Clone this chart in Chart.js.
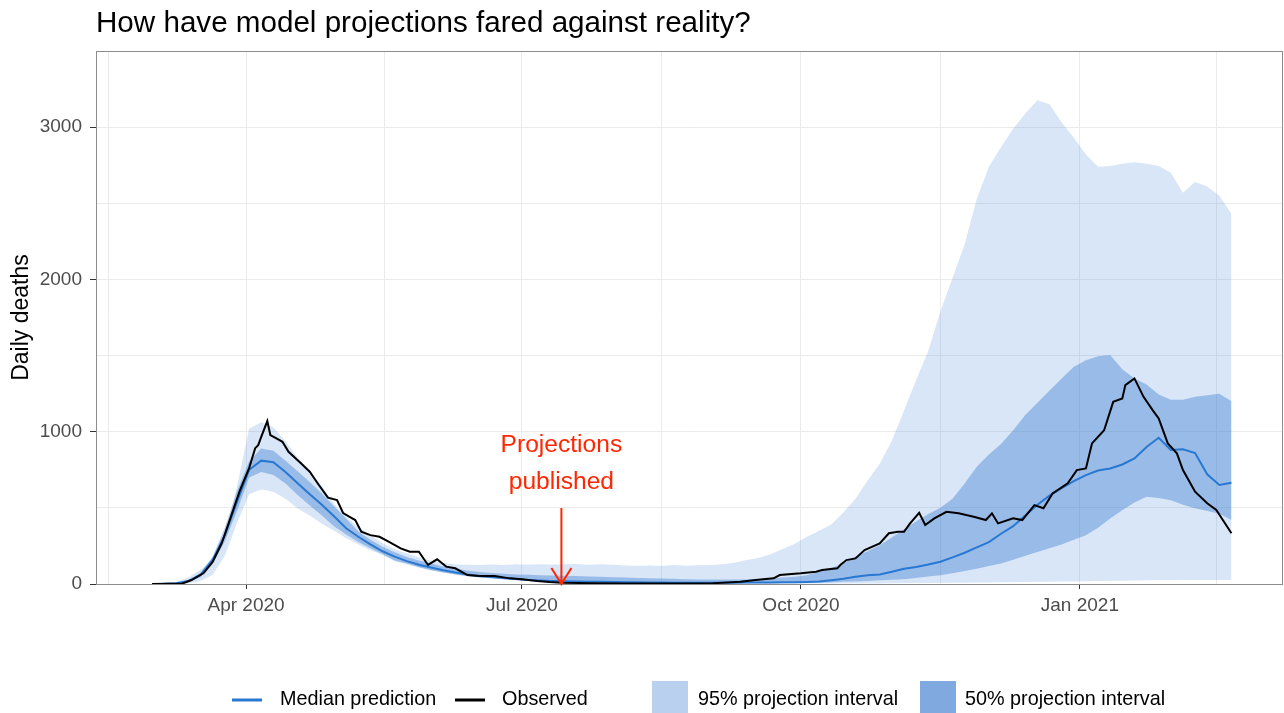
<!DOCTYPE html>
<html>
<head>
<meta charset="utf-8">
<script src="https://cdn.jsdelivr.net/npm/chart.js@4.4.1/dist/chart.umd.min.js"></script>
<style>
  html, body { margin: 0; padding: 0; background: #fff; }
  #wrap { width: 1284px; height: 713px; }
</style>
</head>
<body>
<div id="wrap"><canvas id="chart" width="1284" height="713"></canvas></div>
<script>
// days are counted from 1 Jan 2020 (day 0); 1 Mar 2020 = day 60
const seriesStart = 60;
const seriesStep = 4;

const xTickDays = [91, 182, 274, 366];
const xTickLabels = ['Apr 2020', 'Jul 2020', 'Oct 2020', 'Jan 2021'];
const yTickValues = [0, 1000, 2000, 3000];
const publishedDay = 195; // 14 Jul 2020

// observed daily deaths
const obsDays = [60, 70, 73, 77, 80, 83, 86, 89, 92, 94, 95, 96, 98, 99, 101, 103, 105, 109, 112, 115,
  118, 121, 123, 125, 127, 129, 132, 135, 138, 142, 145, 148, 151, 154, 157, 160, 164, 168, 173, 178,
  182, 187, 191, 195, 205, 215, 225, 235, 245, 254, 259, 265, 267, 274, 279, 281, 286, 287, 289, 292,
  295, 300, 303, 306, 308, 310, 313, 315, 318, 322, 326, 331, 335, 337, 339, 344, 347, 351, 354, 357,
  362, 365, 368, 370, 374, 377, 380, 381, 384, 387, 390, 392, 395, 398, 400, 404, 408, 411, 416];
const observed = [0, 3, 26, 72, 146, 269, 442, 617, 761, 892, 912, 966, 1070, 978, 956, 934, 868, 794, 737, 650,
  567, 551, 466, 442, 420, 343, 321, 310, 278, 234, 212, 212, 125, 162, 114, 103, 59, 52, 52, 37,
  31, 20, 13, 9, 5, 4, 3, 4, 5, 15, 26, 37, 59, 70, 81, 92, 103, 125, 157, 168,
  223, 267, 333, 343, 343, 398, 468, 387, 431, 474, 464, 442, 420, 464, 398, 431, 420, 518, 497, 595,
  661, 748, 759, 923, 1010, 1196, 1218, 1306, 1350, 1229, 1142, 1087, 923, 858, 748, 606, 530, 486, 333];

// projections, one value every 4 days from 1 Mar 2020
const median = [0, 1, 5, 20, 60, 160, 320, 540, 750, 810,
  800, 735, 662, 590, 520, 445, 366, 310, 260, 215,
  180, 150, 127, 108, 90, 75, 62, 52, 46, 40,
  33, 27, 23, 20, 18, 16, 15, 14, 13, 12,
  11, 10, 10, 9, 9, 9, 9, 9, 9, 10,
  10, 10, 11, 11, 13, 16, 25, 35, 48, 58,
  63, 80, 100, 112, 128, 146, 175, 205, 240, 275,
  330, 380, 450, 520, 580, 630, 675, 715, 745, 758,
  785, 825, 900, 960, 880, 885, 860, 720, 650, 665];
const hi95 = [0, 3, 12, 45, 95, 150, 290, 640, 1020, 1062,
  1030, 935, 830, 735, 645, 525, 442, 375, 322, 268,
  228, 200, 175, 152, 139, 128, 127, 125, 128, 125,
  130, 127, 130, 128, 130, 132, 126, 130, 127, 122,
  118, 122, 118, 125, 120, 123, 125, 130, 140, 157,
  170, 195, 230, 265, 310, 350, 390, 470, 560, 680,
  790, 940, 1140, 1340, 1530, 1790, 2010, 2230, 2530, 2740,
  2870, 2990, 3090, 3176, 3150, 3030, 2930, 2820, 2740, 2745,
  2760, 2770, 2760, 2745, 2700, 2570, 2640, 2610, 2550, 2430];
const lo95 = [0, 0, 1, 5, 20, 60, 185, 400, 590, 620,
  605, 560, 495, 450, 395, 350, 300, 260, 222, 190,
  150, 128, 108, 90, 75, 62, 50, 42, 35, 30,
  25, 20, 16, 12, 9, 7, 5, 5, 4, 4,
  4, 4, 3, 3, 3, 3, 3, 3, 3, 3,
  3, 3, 3, 3, 3, 3, 3, 3, 3, 3,
  4, 5, 5, 6, 6, 7, 8, 9, 10, 10,
  11, 12, 13, 14, 15, 16, 17, 18, 20, 21,
  22, 23, 24, 25, 25, 26, 26, 26, 27, 27];
const hi50 = [0, 2, 7, 25, 75, 180, 370, 610, 805, 890,
  875, 810, 740, 670, 595, 510, 430, 345, 290, 245,
  208, 178, 155, 135, 115, 100, 88, 78, 72, 67,
  62, 60, 58, 56, 54, 52, 50, 47, 45, 42,
  40, 38, 36, 34, 32, 30, 30, 30, 30, 30,
  32, 36, 42, 48, 58, 80, 105, 135, 180, 215,
  255, 305, 360, 410, 460, 500, 560, 660, 770, 850,
  920, 1010, 1110, 1190, 1270, 1350, 1426, 1470, 1495, 1503,
  1410, 1350, 1310, 1245, 1210, 1210, 1230, 1240, 1250, 1200];
const lo50 = [0, 0, 3, 12, 45, 130, 280, 480, 700, 735,
  715, 660, 585, 515, 450, 380, 325, 275, 235, 195,
  155, 135, 110, 90, 75, 62, 52, 43, 37, 32,
  27, 22, 18, 15, 12, 10, 8, 8, 7, 7,
  6, 6, 5, 5, 5, 5, 5, 5, 5, 5,
  5, 5, 5, 6, 6, 8, 10, 14, 17, 20,
  24, 28, 32, 40, 50, 58, 70, 85, 100, 118,
  135, 160, 185, 210, 235, 260, 290, 320, 370, 430,
  485, 535, 573, 565, 550, 520, 497, 480, 462, 420];

const FONT = "'Liberation Sans', Arial, Helvetica, sans-serif";
const band95 = 'rgba(60,130,215,0.2)';
const band50 = 'rgba(45,115,205,0.37)';
const medianColor = '#2878d2';

const bandDays = median.map((_, i) => seriesStart + i * seriesStep);
const pts = (days, vals) => vals.map((v, i) => ({ x: days[i], y: v }));

// minor grid lines sit half way between the labelled dates
const gridDays = [45.5];
xTickDays.forEach((d, i) => {
  gridDays.push(d);
  const next = i < xTickDays.length - 1 ? xTickDays[i + 1] : d + 90;
  gridDays.push((d + next) / 2);
});

const bandLine = { borderColor: 'rgba(0,0,0,0)', borderWidth: 0, pointRadius: 0 };

const overlay = {
  id: 'overlay',
  afterDraw(chart) {
    const ctx = chart.ctx;
    const a = chart.chartArea;
    const xs = chart.scales.x;
    const ys = chart.scales.y;
    ctx.save();

    // panel border
    ctx.strokeStyle = '#8c8c8c';
    ctx.lineWidth = 1;
    ctx.strokeRect(a.left + 0.5, a.top + 0.5, a.right - a.left - 1, a.bottom - a.top);

    // title
    ctx.fillStyle = '#000';
    ctx.font = '29.6px ' + FONT;
    ctx.textAlign = 'left';
    ctx.textBaseline = 'alphabetic';
    ctx.fillText('How have model projections fared against reality?', a.left, 32);

    // y axis title
    ctx.save();
    ctx.translate(22, (a.top + a.bottom) / 2);
    ctx.rotate(-Math.PI / 2);
    ctx.font = '23px ' + FONT;
    ctx.textAlign = 'center';
    ctx.textBaseline = 'middle';
    ctx.fillText('Daily deaths', 0, 0);
    ctx.restore();

    // annotation
    const px = xs.getPixelForValue(publishedDay);
    const py = ys.getPixelForValue(0);
    ctx.fillStyle = '#ff2600';
    ctx.strokeStyle = '#ff2600';
    ctx.font = '24.6px ' + FONT;
    ctx.textAlign = 'center';
    ctx.textBaseline = 'middle';
    ctx.fillText('Projections', px, py - 139);
    ctx.fillText('published', px, py - 102);
    ctx.lineWidth = 2;
    ctx.beginPath();
    ctx.moveTo(px, py - 76);
    ctx.lineTo(px, py);
    ctx.moveTo(px - 10, py - 16);
    ctx.lineTo(px, py);
    ctx.lineTo(px + 10, py - 16);
    ctx.stroke();

    // legend
    const ly = 700;
    ctx.font = '19.8px ' + FONT;
    ctx.textAlign = 'left';
    ctx.fillStyle = '#000';
    ctx.lineWidth = 3;
    ctx.strokeStyle = medianColor;
    ctx.beginPath(); ctx.moveTo(232, ly); ctx.lineTo(262, ly); ctx.stroke();
    ctx.fillText('Median prediction', 280, ly);
    ctx.strokeStyle = '#000';
    ctx.beginPath(); ctx.moveTo(455, ly); ctx.lineTo(485, ly); ctx.stroke();
    ctx.fillText('Observed', 502, ly);
    ctx.fillStyle = '#b9d1ef';
    ctx.fillRect(652, 681, 36, 36);
    ctx.fillStyle = '#7fa9df';
    ctx.fillRect(920, 681, 36, 36);
    ctx.fillStyle = '#000';
    ctx.fillText('95% projection interval', 698, ly);
    ctx.fillText('50% projection interval', 965, ly);

    ctx.restore();
  }
};

new Chart(document.getElementById('chart'), {
  type: 'line',
  data: {
    datasets: [
      { label: 'Observed', data: pts(obsDays, observed), borderColor: '#000', borderWidth: 2,
        pointRadius: 0, fill: false, order: 0 },
      { label: 'Median prediction', data: pts(bandDays, median), borderColor: medianColor, borderWidth: 2,
        pointRadius: 0, fill: false, order: 1 },
      { label: '50% upper', data: pts(bandDays, hi50), ...bandLine, backgroundColor: band50, fill: 3, order: 2 },
      { label: '50% lower', data: pts(bandDays, lo50), ...bandLine, fill: false, order: 3 },
      { label: '95% upper', data: pts(bandDays, hi95), ...bandLine, backgroundColor: band95, fill: 5, order: 4 },
      { label: '95% lower', data: pts(bandDays, lo95), ...bandLine, fill: false, order: 5 },
    ],
  },
  options: {
    responsive: false,
    animation: false,
    events: [],
    layout: { padding: { top: 51, right: 1, bottom: 89, left: 0 } },
    plugins: {
      legend: { display: false },
      tooltip: { enabled: false },
      title: { display: false },
    },
    elements: { line: { tension: 0 } },
    scales: {
      x: {
        type: 'linear',
        min: 41.5,
        max: 433,
        afterBuildTicks: (s) => { s.ticks = gridDays.map((v) => ({ value: v })); },
        afterFit: (s) => { s.height = 40; },
        ticks: {
          autoSkip: false,
          maxRotation: 0,
          color: '#4d4d4d',
          font: { family: FONT, size: 19 },
          padding: 5,
          callback: (v) => {
            const i = xTickDays.indexOf(v);
            return i >= 0 ? xTickLabels[i] : '';
          },
        },
        grid: {
          color: '#ebebeb',
          lineWidth: 1,
          tickLength: 5,
          tickColor: (c) => (c.tick && xTickDays.includes(c.tick.value) ? '#333' : 'rgba(0,0,0,0)'),
        },
        border: { display: false },
      },
      y: {
        min: 0,
        max: 3500,
        afterFit: (s) => { s.width = 96; },
        ticks: {
          stepSize: 500,
          color: '#4d4d4d',
          font: { family: FONT, size: 19 },
          padding: 8,
          callback: (v) => (yTickValues.includes(v) ? String(v) : ''),
        },
        grid: {
          color: '#ebebeb',
          lineWidth: 1,
          tickLength: 6,
          tickColor: (c) => (c.tick && yTickValues.includes(c.tick.value) ? '#333' : 'rgba(0,0,0,0)'),
        },
        border: { display: false },
      },
    },
  },
  plugins: [overlay],
});
</script>
</body>
</html>
